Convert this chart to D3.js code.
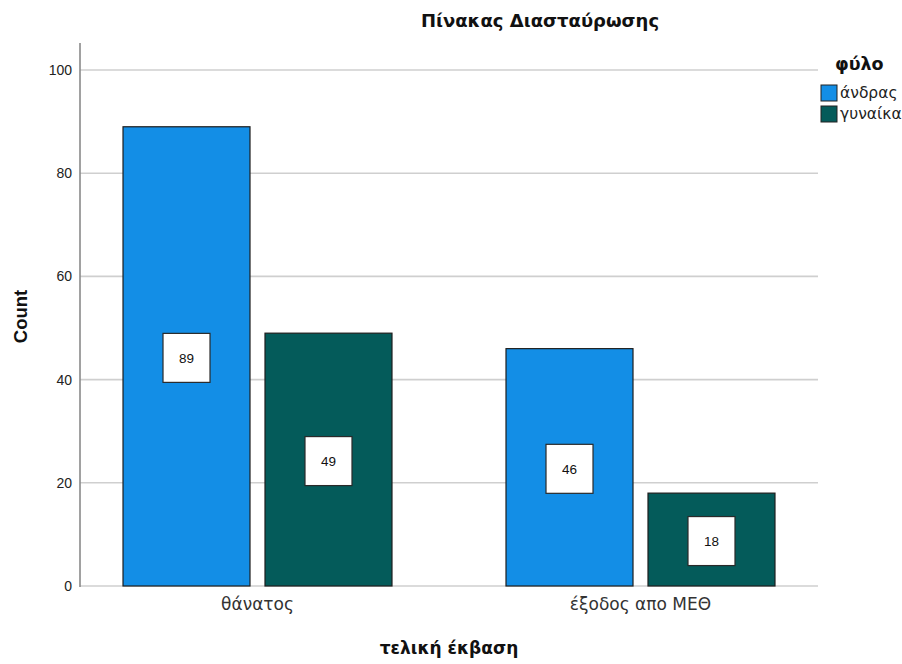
<!DOCTYPE html>
<html>
<head>
<meta charset="utf-8">
<script src="https://d3js.org/d3.v7.min.js"></script>
<style>
  html, body { margin: 0; padding: 0; background: #fff; overflow: hidden; }
  svg { display: block; }
</style>
</head>
<body>
<svg id="chart" width="902" height="664"></svg>
<script>
// Outcome categories and counts by sex
const categories = ["θάνατος", "έξοδος απο ΜΕΘ"];
const seriesNames = ["άνδρας", "γυναίκα"];
const maleCounts = [89, 46];
const femaleCounts = [49, 18];
const yTicks = [0, 20, 40, 60, 80, 100];
const colors = ["#138ee6", "#045b5a"];

const svg = d3.select("#chart");
const plot = { left: 80, right: 818, top: 43, bottom: 586 };

const y = d3.scaleLinear().domain([0, 100]).range([plot.bottom, 70]);

const x0 = d3.scaleBand()
  .domain(categories)
  .range([plot.left, plot.right])
  .paddingInner(0.2977)
  .paddingOuter(0.1123);

const x1 = d3.scaleBand()
  .domain(seriesNames)
  .range([0, x0.bandwidth()])
  .paddingInner(0.1056)
  .paddingOuter(0);

const color = d3.scaleOrdinal().domain(seriesNames).range(colors);

const rows = categories.map((c, i) => ({
  category: c,
  values: [
    { name: seriesNames[0], value: maleCounts[i] },
    { name: seriesNames[1], value: femaleCounts[i] }
  ]
}));

// Gridlines
svg.append("g")
  .selectAll("line")
  .data(yTicks)
  .join("line")
  .attr("x1", plot.left)
  .attr("x2", plot.right)
  .attr("y1", d => y(d))
  .attr("y2", d => y(d))
  .attr("stroke", "#cfcfcf")
  .attr("stroke-width", 1.6);

// Y axis
const yAxis = d3.axisLeft(y).tickValues(yTicks).tickSize(0).tickPadding(8);
const gy = svg.append("g").attr("transform", `translate(${plot.left},0)`).call(yAxis);
gy.select(".domain").remove();
gy.selectAll("text")
  .attr("font-family", "Liberation Sans, Arial, sans-serif")
  .attr("font-size", 14)
  .attr("fill", "#222");
svg.append("line")
  .attr("x1", plot.left).attr("x2", plot.left)
  .attr("y1", plot.top).attr("y2", plot.bottom + 1)
  .attr("stroke", "#8a8a8a").attr("stroke-width", 1.6);

// X axis labels
const xAxis = d3.axisBottom(x0).tickSize(0).tickPadding(12);
const gx = svg.append("g").attr("transform", `translate(0,${plot.bottom})`).call(xAxis);
gx.select(".domain").remove();
gx.selectAll("text")
  .attr("font-family", "DejaVu Sans, sans-serif")
  .attr("font-size", 17)
  .attr("fill", "#333");

// Bars
const groups = svg.append("g")
  .selectAll("g")
  .data(rows)
  .join("g")
  .attr("transform", d => `translate(${x0(d.category)},0)`);

groups.selectAll("rect")
  .data(d => d.values)
  .join("rect")
  .attr("x", d => x1(d.name))
  .attr("y", d => y(d.value))
  .attr("width", x1.bandwidth())
  .attr("height", d => y(0) - y(d.value))
  .attr("fill", d => color(d.name))
  .attr("stroke", "#1e1e1e")
  .attr("stroke-width", 1.2);

// Value labels in boxes
const boxW = 47, boxH = 49;
const labels = groups.selectAll("g.lbl")
  .data(d => d.values)
  .join("g")
  .attr("class", "lbl")
  .attr("transform", d => `translate(${x1(d.name) + x1.bandwidth() / 2},${(y(d.value) + y(0)) / 2 + 1.5})`);

labels.append("rect")
  .attr("x", -boxW / 2)
  .attr("y", -boxH / 2)
  .attr("width", boxW)
  .attr("height", boxH)
  .attr("fill", "#fff")
  .attr("stroke", "#2a2a2a")
  .attr("stroke-width", 1.2);

labels.append("text")
  .attr("text-anchor", "middle")
  .attr("dy", "0.35em")
  .attr("font-family", "Liberation Sans, Arial, sans-serif")
  .attr("font-size", 13.5)
  .attr("fill", "#111")
  .text(d => d.value);

// Title
svg.append("text")
  .attr("x", 540)
  .attr("y", 26.5)
  .attr("text-anchor", "middle")
  .attr("font-family", "DejaVu Sans, sans-serif")
  .attr("font-weight", "bold")
  .attr("font-size", 18)
  .attr("fill", "#111")
  .text("Πίνακας Διασταύρωσης");

// Axis titles
svg.append("text")
  .attr("transform", `translate(27,316.5) rotate(-90)`)
  .attr("text-anchor", "middle")
  .attr("font-family", "Liberation Sans, Arial, sans-serif")
  .attr("font-weight", "bold")
  .attr("font-size", 18.5)
  .attr("fill", "#111")
  .text("Count");

svg.append("text")
  .attr("x", (plot.left + plot.right) / 2)
  .attr("y", 654)
  .attr("text-anchor", "middle")
  .attr("font-family", "DejaVu Sans, sans-serif")
  .attr("font-weight", "bold")
  .attr("font-size", 17)
  .attr("fill", "#111")
  .text("τελική έκβαση");

// Legend
const legend = svg.append("g").attr("transform", "translate(821,0)");
legend.append("text")
  .attr("x", 14)
  .attr("y", 70)
  .attr("font-family", "DejaVu Sans, sans-serif")
  .attr("font-weight", "bold")
  .attr("font-size", 17.5)
  .attr("fill", "#111")
  .text("φύλο");

const items = legend.selectAll("g.item")
  .data(seriesNames)
  .join("g")
  .attr("class", "item")
  .attr("transform", (d, i) => `translate(0,${85 + i * 21})`);

items.append("rect")
  .attr("width", 16)
  .attr("height", 16)
  .attr("fill", d => color(d))
  .attr("stroke", "#222")
  .attr("stroke-width", 1);

items.append("text")
  .attr("x", 19)
  .attr("y", 13)
  .attr("font-family", "DejaVu Sans, sans-serif")
  .attr("font-size", 15.5)
  .attr("fill", "#222")
  .text(d => d);
</script>
</body>
</html>
